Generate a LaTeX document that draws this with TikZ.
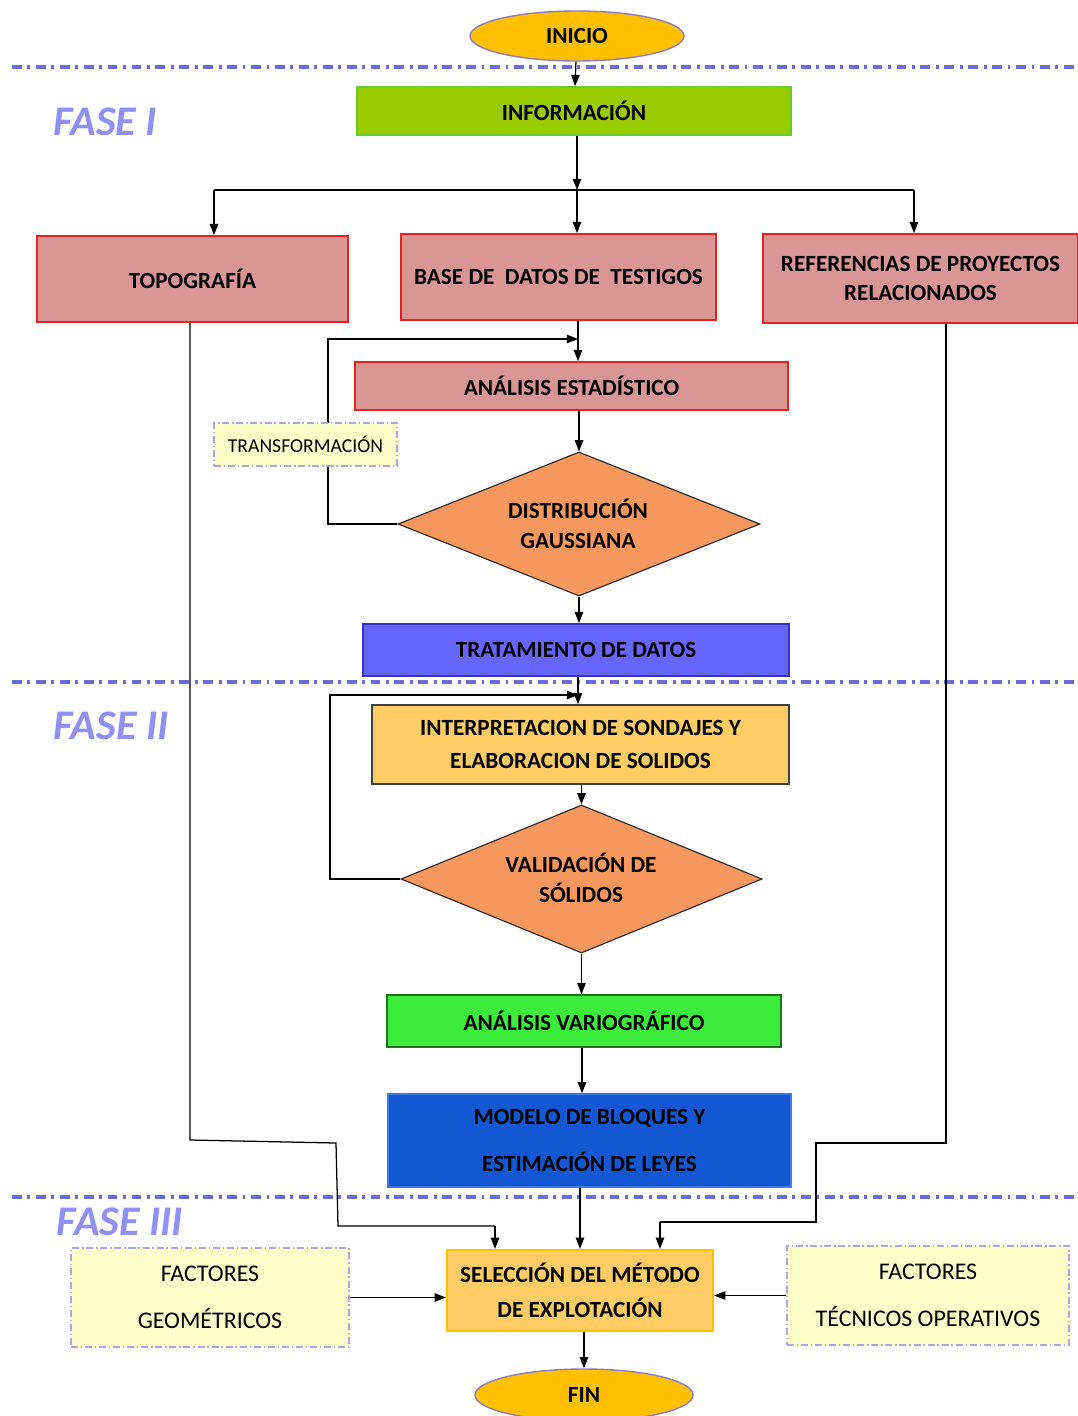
\documentclass[tikz,border=0pt]{standalone}
\usepackage{fontspec}
\setmainfont{Carlito}
\usetikzlibrary{shapes.geometric,arrows.meta}

\definecolor{gold}{HTML}{FFC000}
\definecolor{termline}{HTML}{8E7CC3}
\definecolor{infofill}{HTML}{99CC00}
\definecolor{infoline}{HTML}{66CC33}
\definecolor{pinkfill}{HTML}{D99694}
\definecolor{pinkline}{HTML}{E82020}
\definecolor{decfill}{HTML}{F8985E}
\definecolor{tratfill}{HTML}{6666FF}
\definecolor{tratline}{HTML}{3333CC}
\definecolor{orangefill}{HTML}{FFCC66}
\definecolor{variofill}{HTML}{3DEB3D}
\definecolor{variofline}{HTML}{207020}
\definecolor{modelfill}{HTML}{1357D3}
\definecolor{modelline}{HTML}{3C7BE8}
\definecolor{notefill}{HTML}{FFFFCC}
\definecolor{noteline}{HTML}{A8A8E0}
\definecolor{sepcol}{HTML}{6B6BE0}
\definecolor{phasecol}{HTML}{8F8FF5}

\begin{document}
\begin{tikzpicture}[
        % --- estilos ---
        x=0.025cm, y=-0.025cm,
        every node/.style={font=\fontsize{16.5}{21}\selectfont\bfseries, align=center, inner sep=0pt},
        term/.style={ellipse, draw=termline, fill=gold, line width=1pt},
        infobox/.style={draw=infoline, fill=infofill, line width=1.2pt},
        pinkbox/.style={draw=pinkline, fill=pinkfill, line width=1.2pt},
        decision/.style={diamond, draw=black!85, fill=decfill, line width=0.8pt},
        tratbox/.style={draw=tratline, fill=tratfill, line width=1.2pt},
        interbox/.style={draw=black!75, fill=orangefill, line width=1pt},
        variobox/.style={draw=variofline, fill=variofill, line width=1pt},
        modelbox/.style={draw=modelline, fill=modelfill, line width=1pt},
        selbox/.style={draw=gold, fill=orangefill, line width=1.5pt},
        note/.style={draw=noteline, fill=notefill, line width=1pt,
            dash pattern=on 5pt off 2pt on 1pt off 2pt,
            font=\fontsize{17}{21}\selectfont},
        arr/.style={-{Triangle[length=8pt,width=6pt]}, line width=0.9pt},
        link/.style={line width=0.9pt},
        phase/.style={font=\fontsize{30}{30}\selectfont\bfseries\itshape, text=phasecol},
        sep/.style={draw=sepcol, line width=2.2pt, dash pattern=on 7pt off 4pt on 2pt off 4pt}
    ]

    \useasboundingbox (0,0) rectangle (1078,1416);
    \fill[white] (0,0) rectangle (1078,1416);

    % separadores de fases
    \draw[sep] (12,67) -- (1078,67);
    \draw[sep] (12,682) -- (1078,682);
    \draw[sep] (12,1197) -- (1078,1197);

    \node[phase] (fase1) at (105,122) {FASE I};
    \node[phase] (fase2) at (111,726) {FASE II};
    \node[phase] (fase3) at (120,1222) {FASE III};

    % --- FASE I ---
    \node[term, minimum width=5.35cm, minimum height=1.25cm] (inicio) at (577,36) {INICIO};
    \node[infobox, minimum width=10.85cm, minimum height=1.2cm] (info) at (574,111) {INFORMACIÓN};
    \node[pinkbox, minimum width=7.775cm, minimum height=2.15cm] (topo) at (192.5,279) {TOPOGRAFÍA};
    \node[pinkbox, minimum width=7.875cm, minimum height=2.15cm] (base) at (558.5,277) {BASE DE~ DATOS DE~ TESTIGOS};
    \node[pinkbox, minimum width=7.875cm, minimum height=2.225cm] (refs) at (920.5,278.5) {REFERENCIAS DE PROYECTOS\\RELACIONADOS};
    \node[pinkbox, minimum width=10.825cm, minimum height=1.2cm] (anaest) at (571.5,386) {ANÁLISIS ESTADÍSTICO};
    \node[decision, minimum width=9.05cm, minimum height=3.6cm] (gauss) at (579,524) {};
    \node (gausstxt) at (578,524) {DISTRIBUCIÓN\\GAUSSIANA};
    \node[tratbox, minimum width=10.65cm, minimum height=1.3cm] (trat) at (576,650) {TRATAMIENTO DE DATOS};

    % --- FASE II ---
    \node[interbox, minimum width=10.425cm, minimum height=1.975cm] (interp) at (580.5,744.5) {INTERPRETACION DE SONDAJES Y\\[3pt]ELABORACION DE SOLIDOS};
    \node[decision, minimum width=9.025cm, minimum height=3.7cm] (valid) at (581.5,879) {};
    \node (validtxt) at (581,878) {VALIDACIÓN DE\\SÓLIDOS};
    \node[variobox, minimum width=9.85cm, minimum height=1.3cm] (vario) at (584,1021) {ANÁLISIS VARIOGRÁFICO};
    \node[modelbox, minimum width=10.075cm, minimum height=2.325cm] (modelo) at (589.5,1140.5) {MODELO DE BLOQUES Y\\[12pt]ESTIMACIÓN DE LEYES};

    % --- FASE III ---
    \node[selbox, minimum width=6.65cm, minimum height=2.025cm] (selec) at (580,1290.5) {SELECCIÓN DEL MÉTODO\\[4pt]DE EXPLOTACIÓN};
    \node[note, minimum width=6.95cm, minimum height=2.475cm] (fgeo) at (210,1297.5) {FACTORES\\[12pt]GEOMÉTRICOS};
    \node[note, minimum width=7.05cm, minimum height=2.475cm] (ftec) at (928,1295.5) {FACTORES\\[12pt]TÉCNICOS OPERATIVOS};
    \node[term, minimum width=5.45cm, minimum height=1.3cm] (fin) at (584,1395) {FIN};

    % puntos de quiebre
    \coordinate (split) at (577,190);
    \coordinate (tl) at (214,190);
    \coordinate (tr) at (914,190);
    \coordinate (j1) at (578,339);
    \coordinate (j2) at (578,695);
    \coordinate (l1) at (190,1140);
    \coordinate (l2) at (336,1143);
    \coordinate (l3) at (338,1226);
    \coordinate (l4) at (495,1226);
    \coordinate (r1) at (946,1143);
    \coordinate (r2) at (816,1143);
    \coordinate (r3) at (816,1222);
    \coordinate (r4) at (660,1222);

    % conectores
    \draw[arr] (inicio) -- (info);
    \draw[arr] (info.south -| split) -- (split);
    \draw[link] (tl) -- (tr);
    \draw[arr] (tl) -- (tl |- topo.north);
    \draw[arr] (split) -- (split |- base.north);
    \draw[arr] (tr) -- (tr |- refs.north);
    \draw[arr] (base.south -| j1) -- (j1 |- anaest.north);
    \draw[arr] (gauss.west) -| (328,339) -- (j1);
    \draw[arr] (anaest.south -| gauss.north) -- (gauss.north);
    \draw[arr] (gauss.south) -- (gauss.south |- trat.north);
    \draw[arr] (trat.south -| j2) -- (j2 |- interp.north);
    \draw[arr] (valid.west) -| (330,695) -- (j2);
    \draw[arr] (interp.south -| valid.north) -- (valid.north);
    \draw[arr] (valid.south) -- (valid.south |- vario.north);
    \draw[arr] (vario.south -| 582,0) -- (modelo.north -| 582,0);
    \draw[link] (topo.south -| l1) -- (l1) -- (l2) -- (l3) -- (l4);
    \draw[arr] (l4) -- (l4 |- selec.north);
    \draw[link] (refs.south -| r1) -- (r1) -- (r2) -- (r3) -- (r4);
    \draw[arr] (r4) -- (r4 |- selec.north);
    \draw[arr] (modelo.south -| selec.north) -- (selec.north);
    \draw[arr] (fgeo.east) -- (fgeo.east -| selec.west);
    \draw[arr] (ftec.west) -- (ftec.west -| selec.east);
    \draw[arr] (selec.south -| fin.north) -- (fin.north);

    % nota sobre el lazo
    \node[note, font=\fontsize{14}{16}\selectfont, minimum width=4.575cm, minimum height=1.075cm] (trans) at (305.5,444.5) {TRANSFORMACIÓN};
\end{tikzpicture}
\end{document}
